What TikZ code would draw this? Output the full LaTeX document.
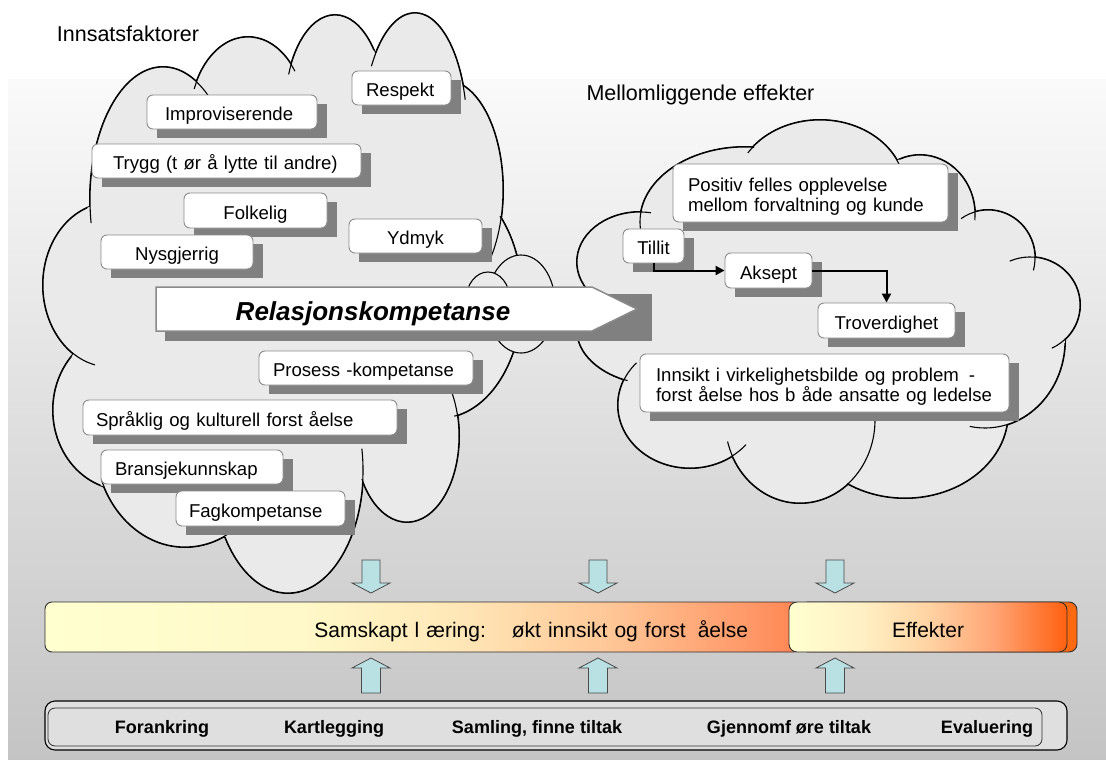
\documentclass[tikz,border=0pt]{standalone}
\usepackage{fontspec}
\setmainfont{Liberation Sans}
\usetikzlibrary{arrows.meta}
\definecolor{bgtop}{HTML}{FAFAFA}
\definecolor{bgbot}{HTML}{C4C4C4}
\definecolor{cloudfill}{HTML}{EAEAEA}
\definecolor{shadowgray}{HTML}{808080}
\definecolor{boxline}{HTML}{8C8C8C}
\definecolor{arrowedge}{HTML}{8A8A8A}
\definecolor{blockfill}{HTML}{B9E0E3}
\definecolor{blockline}{HTML}{4A4A4A}
\definecolor{barline}{HTML}{2E2E2E}
\definecolor{phasefill}{HTML}{DFDFDF}
\definecolor{effbackfill}{HTML}{FF6A10}
\definecolor{sa}{HTML}{FFFFD0}
\definecolor{sb}{HTML}{FFF8C8}
\definecolor{sc}{HTML}{FFE8B8}
\definecolor{sd}{HTML}{FFC898}
\definecolor{se}{HTML}{FF9666}
\definecolor{sf}{HTML}{FF8450}
\definecolor{ea}{HTML}{FFFFD0}
\definecolor{eb}{HTML}{FFF0C4}
\definecolor{ec}{HTML}{FFD3A3}
\definecolor{ed}{HTML}{FFA474}
\definecolor{ee}{HTML}{FF6010}
\pgfdeclarehorizontalshading{samshade}{100bp}{color(0bp)=(sa); color(25bp)=(sa); color(42bp)=(sb); color(52bp)=(sc); color(62bp)=(sd); color(72bp)=(se); color(75bp)=(sf); color(100bp)=(sf)}
\pgfdeclarehorizontalshading{effshade}{100bp}{color(0bp)=(ea); color(25bp)=(ea); color(38bp)=(eb); color(50bp)=(ec); color(62bp)=(ed); color(75bp)=(ee); color(100bp)=(ee)}
\pgfdeclarelayer{bg}
\pgfdeclarelayer{shad}
\pgfsetlayers{bg,shad,main}
\newcommand\myTagFont{\fontsize{18.6pt}{20pt}\selectfont}
\newcommand\myTitleFont{\fontsize{21.5pt}{24pt}\selectfont}
\newcommand\myBarFont{\fontsize{21pt}{24pt}\selectfont}
\newcommand\myStepFont{\fontsize{18pt}{20pt}\selectfont\bfseries}
\newcommand\myRelFont{\fontsize{26pt}{30pt}\selectfont\bfseries\itshape}
\begin{document}
\begin{tikzpicture}[x=1pt,y=-1pt,
  tagbox/.style={draw=boxline, line width=0.9pt, fill=white, rounded corners=6pt, inner ysep=0pt, minimum height=34pt, font=\myTagFont, text height=21pt, text depth=4pt},
  ltag/.style 2 args={tagbox, align=left, text width={#1pt-2*#2pt}, inner xsep=#2pt},
  ctag/.style={tagbox, inner xsep=0pt, minimum width=#1pt},
  twoline/.style={text height=14pt, text depth=16.6pt, minimum height=58pt},
  flow/.style={line width=2pt, -{Triangle[length=9pt,width=9pt]}},
  blockarrow/.style={fill=blockfill, draw=blockline, line width=0.8pt},
  cloudline/.style={line width=1.1pt},
  steplabel/.style={font=\myStepFont, anchor=base}]
\useasboundingbox (0,0) rectangle (1106,760);

\begin{pgfonlayer}{bg}
\shade[top color=bgtop, bottom color=bgbot] (8,80) rectangle (1106,760);
% left cloud
\def\leftlobes{163/200/73/133, 248/120/58/83, 335/110/50/95, 415/130/52/117, 445/190/58/110, 440/298/82/120, 407/436/52/86, 288/470/75/123, 185/440/90/107, 125/410/72/80, 110/285/67/82, 280/290/180/190}
\foreach \cx/\cy/\rx/\ry in \leftlobes {\draw[line width=2pt] (\cx,\cy) ellipse [x radius=\rx pt, y radius=\ry pt];}
\foreach \cx/\cy/\rx/\ry in \leftlobes {\fill[cloudfill] (\cx,\cy) ellipse [x radius=\rx pt, y radius=\ry pt];}
\foreach \cx/\cy/\rx/\ry/\a/\b in {163/200/73/133/52/190, 248/120/58/83/36/158, 335/110/50/95/39/158, 415/130/52/117/15/147, 445/190/58/110/72/-37, 440/298/82/120/43/-80, 407/436/52/86/30/-150, 288/470/75/123/10/-147, 185/440/90/107/-55/-158, 125/410/72/80/138/250, 110/285/67/82/110/257}
  {\draw[cloudline] (\cx,\cy) ++(\a:\rx pt and \ry pt) arc[start angle=\a, end angle=\b, x radius=\rx pt, y radius=\ry pt];}
% right cloud
\def\rightlobes{820/190/85/70, 745/222/105/75, 640/262/63/50, 660/330/83/55, 690/405/72/63, 800/420/75/83, 905/413/103/85, 985/340/80/88, 1030/305/50/48, 988/258/47/48, 920/215/55/60, 830/320/200/150}
\foreach \cx/\cy/\rx/\ry in \rightlobes {\draw[line width=2pt] (\cx,\cy) ellipse [x radius=\rx pt, y radius=\ry pt];}
\foreach \cx/\cy/\rx/\ry in \rightlobes {\fill[cloudfill] (\cx,\cy) ellipse [x radius=\rx pt, y radius=\ry pt];}
\foreach \cx/\cy/\rx/\ry/\a/\b in {820/190/85/70/20/148, 745/222/105/75/85/185, 640/262/63/50/80/220, 660/330/83/55/150/247, 690/405/72/63/138/321, 800/420/75/83/195/365, 905/413/103/85/236/352, 985/340/80/88/259/358, 1030/305/50/48/114/-64, 988/258/47/48/125/-15, 920/215/55/60/112/-5}
  {\draw[cloudline] (\cx,\cy) ++(\a:\rx pt and \ry pt) arc[start angle=\a, end angle=\b, x radius=\rx pt, y radius=\ry pt];}
% small connecting puffs
\draw[cloudline, fill=cloudfill] (521,304) ellipse [x radius=34pt, y radius=49pt];
\draw[cloudline, fill=cloudfill] (488,300) ellipse [x radius=22pt, y radius=28pt];
\end{pgfonlayer}

% titles
\node[font=\myTitleFont, anchor=base] (innsats) at (128,42) {Innsatsfaktorer};
\node[font=\myTitleFont, anchor=base] (mellom) at (700.5,100) {Mellomliggende effekter};

% big arrow
\fill[shadowgray] (165,294) rectangle (652,341);
\draw[draw=arrowedge, line width=1.5pt, fill=white] (156,287) -- (592,287) -- (637,309) -- (592,331) -- (156,331) -- cycle;
\node[font=\myRelFont, anchor=base] (relkomp) at (373,320) {Relasjonskompetanse};

% left cloud boxes
\node[ltag={99}{14}] (respekt) at (401.5,88) {Respekt};
\node[ltag={170}{18}] (improv) at (232,112) {Improviserende};
\node[ltag={269}{21}] (trygg) at (226.5,161) {Trygg (t ør å lytte til andre)};
\node[ctag=143, minimum height=35pt] (folkelig) at (255.5,210.5) {Folkelig};
\node[ctag=133] (ydmyk) at (415.5,236) {Ydmyk};
\node[ctag=152] (nysgjerrig) at (177,252) {Nysgjerrig};
\node[ltag={214}{14}] (prosess) at (366,368) {Prosess -kompetanse};
\node[ltag={314}{13}, minimum height=35pt] (sprak) at (240,417.5) {Språklig og kulturell forst åelse};
\node[ltag={182}{14}] (bransje) at (192,467) {Bransjekunnskap};
\node[ltag={169}{13}, minimum height=35pt] (fag) at (260.5,508.5) {Fagkompetanse};

% right cloud boxes
\node[ltag={275}{15}, twoline] (positiv) at (810.5,193) {Positiv felles opplevelse\\mellom forvaltning og kunde};
\node[ctag=61] (tillit) at (653.5,246) {Tillit};
\node[ctag=87, minimum height=35pt] (aksept) at (768.5,270.5) {Aksept};
\node[ctag=137, minimum height=35pt] (trover) at (886.5,320.5) {Troverdighet};
\node[ltag={369}{16}, twoline] (innsikt) at (824.5,383) {\mbox{Innsikt i virkelighetsbilde og problem\hspace{10pt}-}\\forst åelse hos b åde ansatte og ledelse};

\begin{pgfonlayer}{shad}
\foreach \n in {respekt,improv,trygg,folkelig,ydmyk,nysgjerrig,prosess,sprak,bransje,fag,positiv,tillit,aksept,trover,innsikt}
  {\fill[shadowgray] ([shift={(10,9)}]\n.north west) rectangle ([shift={(10,9)}]\n.south east);}
\end{pgfonlayer}

\draw[flow] (tillit.south) |- (aksept.west);
\draw[flow] (aksept.east) -| (trover.north);

% result bars
\node[draw=barline, line width=0.9pt, rounded corners=7pt, shading=samshade, shade, minimum width=755pt, minimum height=50pt, inner ysep=0pt, inner xsep=52pt, text width=651pt, align=right, font=\myBarFont, text height=22pt, text depth=2pt] (sambar) at (422.5,627) {Samskapt l æring:\hspace{26pt}økt innsikt og forst\hspace{12pt}åelse};
\node[draw=barline, line width=0.9pt, rounded corners=8pt, fill=effbackfill, minimum width=277pt, minimum height=50pt, inner sep=0pt] (effbehind) at (938.5,627) {};
\node[draw=barline, line width=0.9pt, rounded corners=8pt, shading=effshade, shade, minimum width=278pt, minimum height=50pt, inner sep=0pt, font=\myBarFont, text height=22pt, text depth=2pt] (effekter) at (928,627) {Effekter};

% phase bar
\node[draw=black, line width=1.1pt, rounded corners=10pt, fill=phasefill, minimum width=1022pt, minimum height=49pt, inner sep=0pt] (phaseouter) at (556,725.5) {};
\node[draw=barline, line width=0.8pt, rounded corners=7pt, fill=phasefill, minimum width=994pt, minimum height=38pt, inner sep=0pt] (phaseinner) at (545,727) {};
\node[steplabel] (forankring) at (162,733) {Forankring};
\node[steplabel] (kartlegging) at (334,733) {Kartlegging};
\node[steplabel] (samling) at (537,733) {Samling, finne tiltak};
\node[steplabel] (gjennomf) at (789,733) {Gjennomf øre tiltak};
\node[steplabel] (evaluering) at (987,733) {Evaluering};

% block arrows
\foreach \cx in {371,598,835} {
  \draw[blockarrow] ({\cx-9},560) -- ({\cx+9},560) -- ({\cx+9},583) -- ({\cx+19},583) -- (\cx,593) -- ({\cx-19},583) -- ({\cx-9},583) -- cycle;
  \draw[blockarrow] (\cx,658) -- ({\cx+19},668) -- ({\cx+9.5},668) -- ({\cx+9.5},693) -- ({\cx-9.5},693) -- ({\cx-9.5},668) -- ({\cx-19},668) -- cycle;
}
\end{tikzpicture}
\end{document}
